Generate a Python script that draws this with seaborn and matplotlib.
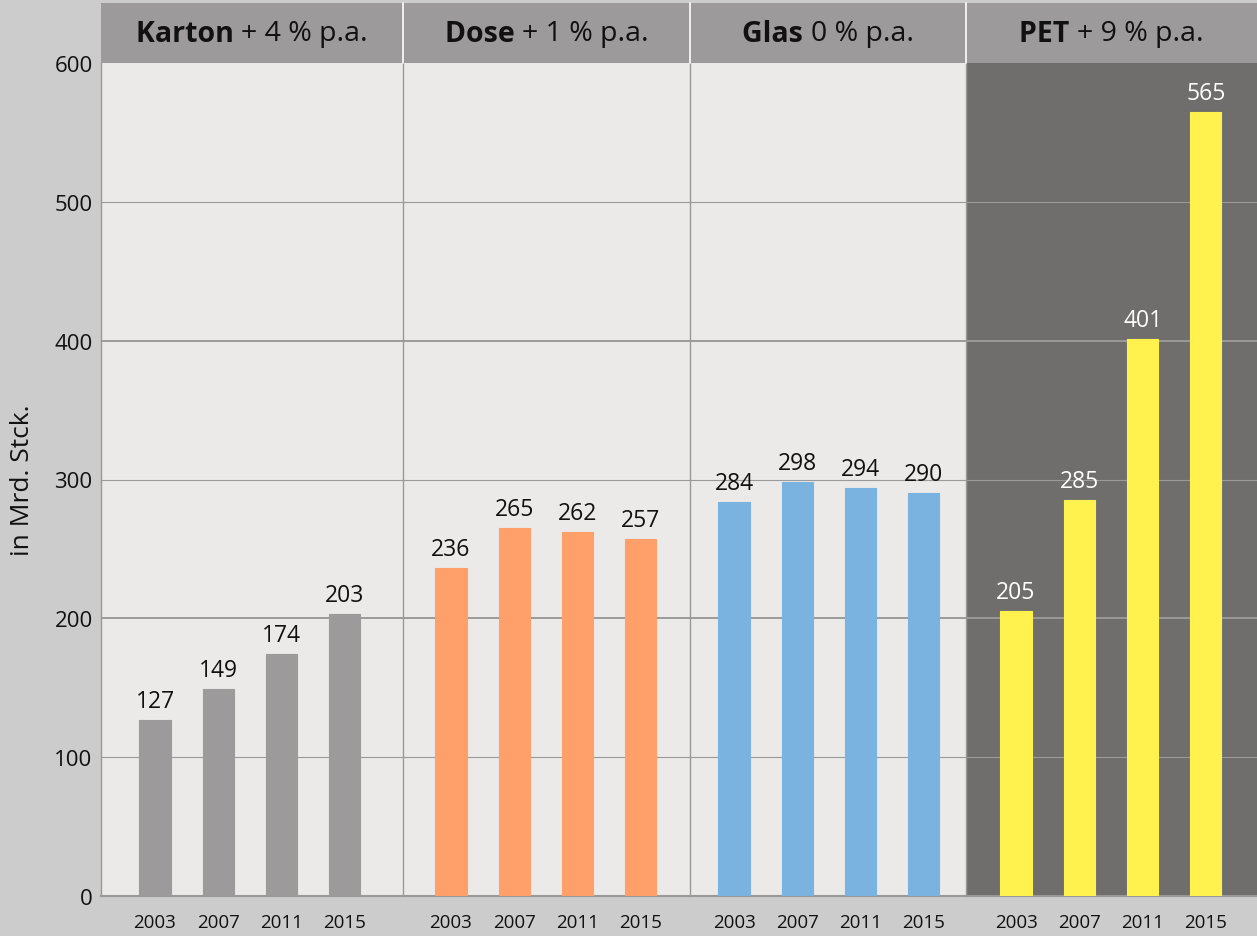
import matplotlib
matplotlib.use("Agg")
import matplotlib.pyplot as plt
import seaborn as sns
import pandas as pd
from matplotlib.patches import Rectangle

sns.set_theme(style="white")
plt.rcParams['font.family'] = ['Open Sans', 'DejaVu Sans']

years = ["2003", "2007", "2011", "2015"]
groups = ["Karton", "Dose", "Glas", "PET"]
growth = ["+ 4 % p.a.", "+ 1 % p.a.", "0 % p.a.", "+ 9 % p.a."]
karton = [127, 149, 174, 203]
dose = [236, 265, 262, 257]
glas = [284, 298, 294, 290]
pet = [205, 285, 401, 565]
values = [karton, dose, glas, pet]
bar_colors = ["#9c9a9a", "#ff9f6a", "#7ab3df", "#fff24f"]
panel_bg = ["#ebeae8", "#ebeae8", "#ebeae8", "#6f6e6c"]
label_colors = ["#111111", "#111111", "#111111", "#ffffff"]
yticks = [0, 100, 200, 300, 400, 500, 600]

W, H = 1257, 937
fig = plt.figure(figsize=(W / 100, H / 100), dpi=100, facecolor="#cccccc")
widths = [302, 287, 276, 291]
lefts = [54, 48, 44, 50]
spacing = 63.3
gs = fig.add_gridspec(1, 4, width_ratios=widths, wspace=0,
                      left=101 / W, right=1.0, top=1 - 64 / H, bottom=1 - 897 / H)
header_h = 60 / 833

title_parts = []
for i in range(4):
    ax = fig.add_subplot(gs[0, i])
    df = pd.DataFrame({"year": years, "value": values[i]})
    sns.barplot(data=df, x="year", y="value", color=bar_colors[i], width=0.49,
                saturation=1, edgecolor=bar_colors[i], linewidth=0.8, ax=ax, zorder=3)
    ax.set_facecolor(panel_bg[i])
    x0 = -lefts[i] / spacing
    ax.set_xlim(x0, x0 + widths[i] / spacing)
    ax.set_ylim(0, 600)
    ax.set_yticks(yticks)
    for y in yticks[1:-1]:
        lw = 1.4 if y in (200, 400) else 0.8
        ax.axhline(y, color="#9a9a9a", lw=lw, zorder=1)
    for j, v in enumerate(values[i]):
        ax.text(j, v + 5, str(v), ha="center", va="bottom", fontsize=16.5,
                color=label_colors[i], zorder=4)
    for s in ["top", "right"]:
        ax.spines[s].set_visible(False)
    ax.spines["left"].set_color("#999999")
    ax.spines["left"].set_linewidth(1.0)
    ax.spines["bottom"].set_color("#999999")
    ax.spines["bottom"].set_linewidth(1.5)
    ax.tick_params(axis="both", length=0)
    ax.tick_params(axis="x", labelsize=13.5, pad=12, colors="#111111")
    ax.set_xlabel("")
    if i == 0:
        ax.tick_params(axis="y", labelsize=16, pad=6, colors="#111111")
        ax.set_ylabel("in Mrd. Stck.", fontsize=19, color="#111111", labelpad=14)
    else:
        ax.set_yticklabels([])
        ax.set_ylabel("")
    # header band
    ax.add_patch(Rectangle((0, 1), 1, header_h, transform=ax.transAxes,
                           facecolor="#9c9a9a", edgecolor="none", clip_on=False, zorder=5))
    if i > 0:
        ax.plot([0, 0], [1, 1 + header_h], transform=ax.transAxes, color="white",
                lw=1.2, clip_on=False, zorder=6)
    t1 = ax.text(0.5, 1 + header_h / 2, groups[i] + " ", transform=ax.transAxes,
                 ha="right", va="center", fontsize=20.5, fontweight="bold",
                 color="#111111", zorder=7, clip_on=False)
    t2 = ax.text(0.5, 1 + header_h / 2, growth[i], transform=ax.transAxes,
                 ha="left", va="center", fontsize=20.5, fontweight="medium",
                 color="#111111", zorder=7, clip_on=False)
    title_parts.append((ax, t1, t2))

fig.canvas.draw()
r = fig.canvas.get_renderer()
for ax, t1, t2 in title_parts:
    w1 = t1.get_window_extent(r).width
    w2 = t2.get_window_extent(r).width
    axw = ax.get_window_extent(r).width
    shift = (w1 - w2) / 2 / axw
    for t in (t1, t2):
        x, y = t.get_position()
        t.set_position((x + shift, y))

fig.savefig("out.png", dpi=100, facecolor=fig.get_facecolor())
